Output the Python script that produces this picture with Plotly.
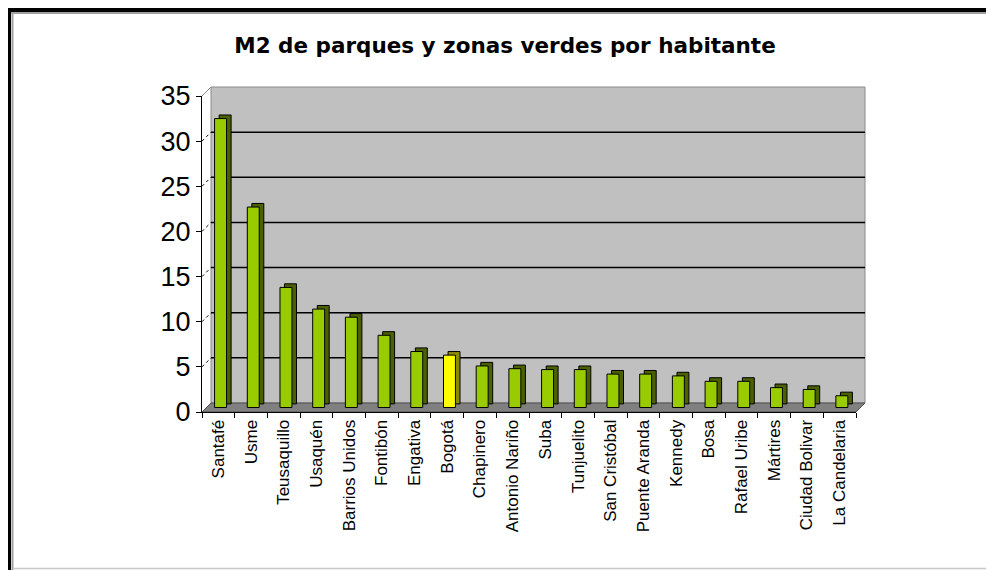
import plotly.graph_objects as go

# ---------------- data ----------------
districts = ["Santafé", "Usme", "Teusaquillo", "Usaquén", "Barrios Unidos", "Fontibón",
             "Engativa", "Bogotá", "Chapinero", "Antonio Nariño", "Suba", "Tunjuelito",
             "San Cristóbal", "Puente Aranda", "Kennedy", "Bosa", "Rafael Uribe",
             "Mártires", "Ciudad Bolivar", "La Candelaria"]
m2_per_habitant = [32.0, 22.2, 13.3, 10.9, 10.0, 8.0, 6.2, 5.8, 4.6, 4.3, 4.2, 4.2,
                   3.7, 3.7, 3.5, 2.9, 2.9, 2.2, 2.0, 1.3]
highlight = "Bogotá"
y_ticks = [0, 5, 10, 15, 20, 25, 30, 35]
title_text = "M2 de parques y zonas verdes por habitante"

# ---------------- styling ----------------
GREEN, GREEN_SIDE = "#99CC00", "#4B6000"
YELLOW, YELLOW_SIDE = "#FFFF00", "#8C8C00"
front_colors = [YELLOW if d == highlight else GREEN for d in districts]
side_colors = [YELLOW_SIDE if d == highlight else GREEN_SIDE for d in districts]

OFF = 8                                  # page body margin of the html page
W_PX, H_PX = 994 - OFF, 570 - OFF
L, R, T, B = 202, 865, 87, 412           # plot area in window pixels
PW, PH = R - L, B - T
FRONT_RIGHT = 856
Y_TOP_FRONT = 96


def px(x):
    return (x - L) / PW


def py(y):
    return (B - y) / PH


fig = go.Figure()

# side/top faces (shadow) then front faces
fig.add_trace(go.Bar(x=districts, y=m2_per_habitant, base=0.4, offset=0.025, width=0.365,
                     marker=dict(color=side_colors, line=dict(color="black", width=1)),
                     xaxis="x", yaxis="y4", hoverinfo="skip", showlegend=False))
fig.add_trace(go.Bar(x=districts, y=m2_per_habitant, offset=-0.115, width=0.365,
                     marker=dict(color=front_colors, line=dict(color="black", width=1)),
                     xaxis="x", yaxis="y4", showlegend=False))
fig.add_trace(go.Scatter(x=[], y=[], xaxis="x", yaxis="y", showlegend=False, hoverinfo="skip"))
fig.add_trace(go.Scatter(x=[], y=[], xaxis="x", yaxis="y3", showlegend=False, hoverinfo="skip"))

shapes = []
# back wall
shapes.append(dict(type="rect", xref="paper", yref="paper", x0=px(211), x1=px(865),
                   y0=py(403), y1=py(87), fillcolor="#C0C0C0",
                   line=dict(color="#8A8A8A", width=1), layer="below"))
# floor
shapes.append(dict(type="path", xref="paper", yref="paper",
                   path=f"M {px(L)} {py(B)} L {px(FRONT_RIGHT)} {py(B)} L {px(865)} {py(403)} L {px(211)} {py(403)} Z",
                   fillcolor="#808080", line=dict(color="#505050", width=1), layer="below"))
# gridlines on back wall
for v in y_ticks[1:-1]:
    shapes.append(dict(type="line", xref="paper", yref="y3", x0=px(211), x1=px(865),
                       y0=v, y1=v, line=dict(color="black", width=1.5), layer="below"))
# side-wall connectors from front ticks to back gridlines
unit = (B - Y_TOP_FRONT) / 35.0
for v in y_ticks[1:]:
    solid = v == y_ticks[-1]
    shapes.append(dict(type="line", xref="paper", yref="paper",
                       x0=px(L), y0=py(B - unit * v), x1=px(211), y1=py(403 - unit * v),
                       line=dict(color="#8A8A8A" if solid else "black", width=1,
                                 dash="solid" if solid else "dot"), layer="below"))
# outer frame (black border at left and top, light line at bottom)
shapes.append(dict(type="line", xref="paper", yref="paper", x0=px(8.5), x1=px(8.5),
                   y0=py(7), y1=py(575), line=dict(color="black", width=5), layer="above"))
shapes.append(dict(type="line", xref="paper", yref="paper", x0=px(6), x1=px(1000),
                   y0=py(9.5), y1=py(9.5), line=dict(color="black", width=5), layer="above"))
shapes.append(dict(type="line", xref="paper", yref="paper", x0=px(12.5), x1=px(12.5),
                   y0=py(12), y1=py(575), line=dict(color="#A0A0A0", width=2), layer="above"))
shapes.append(dict(type="line", xref="paper", yref="paper", x0=px(11), x1=px(1000),
                   y0=py(13), y1=py(13), line=dict(color="#A0A0A0", width=2), layer="above"))
shapes.append(dict(type="line", xref="paper", yref="paper", x0=px(13), x1=px(1000),
                   y0=py(568.5), y1=py(568.5), line=dict(color="#C8C8C8", width=1.5), layer="above"))

fig.update_layout(
    width=W_PX, height=H_PX,
    margin=dict(l=L - OFF, r=994 - R, t=T - OFF, b=570 - B, pad=0),
    paper_bgcolor="white", plot_bgcolor="rgba(0,0,0,0)",
    barmode="overlay",
    showlegend=False,
    title=dict(text=title_text, x=px(505), xref="paper", xanchor="center",
               y=1 - (45.5 - OFF) / H_PX, yref="container", yanchor="middle",
               font=dict(family="DejaVu Sans", size=21.5, color="black", weight="bold")),
    xaxis=dict(domain=[0, (FRONT_RIGHT - L) / PW], type="category",
               categoryorder="array", categoryarray=districts,
               range=[-0.5, len(districts) - 0.5],
               showline=True, linecolor="black", linewidth=1,
               ticks="outside", tickson="boundaries", ticklen=5, tickcolor="black",
               tickangle=-90, tickfont=dict(family="Liberation Sans", size=17, color="black"),
               showgrid=False, zeroline=False, anchor="y"),
    yaxis=dict(domain=[0, (B - Y_TOP_FRONT) / PH], range=[0, 35], tickvals=y_ticks,
               showline=True, linecolor="black", linewidth=1,
               ticks="outside", ticklen=5, tickcolor="black",
               tickfont=dict(family="Liberation Sans", size=27, color="black"),
               showgrid=False, zeroline=False, anchor="x"),
    yaxis3=dict(overlaying="y", range=[-9.0 / unit, 35 - 9.0 / unit], visible=False,
                showgrid=False, zeroline=False),
    yaxis4=dict(overlaying="y", range=[-4.5 / unit, 35 - 4.5 / unit], visible=False,
                showgrid=False, zeroline=False),
    shapes=shapes,
)

fig.write_html("out.html")
